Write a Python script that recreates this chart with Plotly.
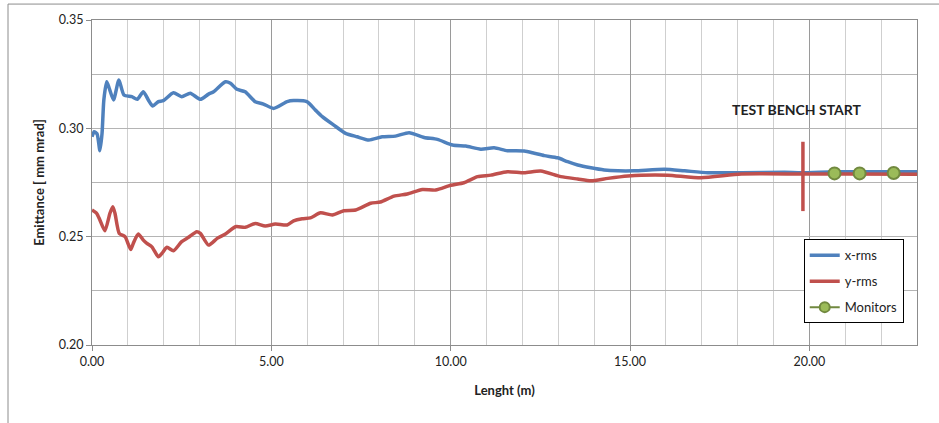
import plotly.graph_objects as go

# Emittance along the line (m, mm mrad)
x_rms_pos = [0, 0.06, 0.14, 0.22, 0.28, 0.33, 0.41, 0.48, 0.6, 0.75, 0.89, 1.11, 1.26, 1.43,
             1.57, 1.69, 1.85, 1.99, 2.27, 2.5, 2.74, 3.02, 3.25, 3.39, 3.72, 3.86, 4.04, 4.27,
             4.55, 4.78, 5.06, 5.44, 5.62, 5.99, 6.23, 6.42, 6.74, 7.07, 7.39, 7.72, 8.09, 8.46,
             8.84, 9.26, 9.63, 10.05, 10.42, 10.84, 11.21, 11.58, 12.05, 12.33, 12.61, 12.98,
             13.26, 13.54, 13.91, 14.28, 14.66, 15.12, 15.96, 16.52, 17.17, 18.1, 19.31, 19.78,
             20.7, 21.4, 22.35, 23.0]
x_rms = [0.2961, 0.2984, 0.2975, 0.2897, 0.2977, 0.3131, 0.3215, 0.3185, 0.3131, 0.3223,
         0.3154, 0.3146, 0.3134, 0.3169, 0.3131, 0.3103, 0.3123, 0.3128, 0.3164, 0.3146,
         0.3162, 0.3134, 0.3158, 0.3169, 0.3215, 0.3208, 0.3180, 0.3169, 0.3123, 0.3112,
         0.3092, 0.3123, 0.3128, 0.3123, 0.3084, 0.3054, 0.3015, 0.2977, 0.2961, 0.2946,
         0.2961, 0.2964, 0.2980, 0.2958, 0.2949, 0.2923, 0.2918, 0.2904, 0.2910, 0.2897,
         0.2895, 0.2885, 0.2874, 0.2864, 0.2846, 0.2831, 0.2818, 0.2808, 0.2804, 0.2804,
         0.2811, 0.2804, 0.2795, 0.2795, 0.2797, 0.2795, 0.2800, 0.2800, 0.2800, 0.2800]

y_rms_pos = [0, 0.13, 0.22, 0.36, 0.5, 0.58, 0.64, 0.76, 0.92, 1.08, 1.15, 1.29, 1.43, 1.53,
             1.67, 1.85, 1.95, 2.09, 2.27, 2.5, 2.69, 2.92, 3.02, 3.25, 3.49, 3.72, 4.0, 4.27,
             4.55, 4.83, 5.11, 5.44, 5.62, 5.86, 6.09, 6.37, 6.70, 7.02, 7.35, 7.77, 8.04, 8.42,
             8.79, 9.21, 9.58, 10.0, 10.37, 10.75, 11.12, 11.58, 12.05, 12.51, 13.07, 13.54,
             13.91, 14.38, 14.94, 15.31, 16.05, 16.98, 18.1, 19.78, 21.0, 23.0]
y_rms = [0.2623, 0.2608, 0.2577, 0.2527, 0.2608, 0.2638, 0.2608, 0.2515, 0.2500, 0.2441,
         0.2469, 0.2512, 0.2484, 0.2469, 0.2453, 0.2407, 0.2423, 0.2451, 0.2435, 0.2477,
         0.2497, 0.2523, 0.2515, 0.2461, 0.2492, 0.2512, 0.2546, 0.2543, 0.2561, 0.2549,
         0.2558, 0.2554, 0.2573, 0.2583, 0.2587, 0.2610, 0.2600, 0.2620, 0.2623, 0.2654,
         0.2660, 0.2687, 0.2697, 0.2718, 0.2715, 0.2737, 0.2749, 0.2777, 0.2784, 0.2800,
         0.2795, 0.2803, 0.2777, 0.2766, 0.2758, 0.2769, 0.2780, 0.2784, 0.2784, 0.2772,
         0.2789, 0.2789, 0.2789, 0.2788]

# Beam monitors
monitor_pos = [20.7, 21.4, 22.35]
monitor_emit = [0.2792, 0.2792, 0.2794]

# Test bench start marker
bench_pos = [19.82, 19.82]
bench_emit = [0.2618, 0.2938]
bench_label = "TEST BENCH START"
bench_label_pos = (19.65, 0.3085)

BLUE = "#4F81BD"
RED = "#C0504D"
GREEN = "#9BBB59"
GREEN_DARK = "#71893F"
FONT = "Lato"

fig = go.Figure()

fig.add_trace(go.Scatter(
    x=x_rms_pos, y=x_rms, name="x-rms", mode="lines", legendgroup="a",
    line=dict(color=BLUE, width=3.5, shape="spline", smoothing=0.6)))
fig.add_trace(go.Scatter(
    x=y_rms_pos, y=y_rms, name="y-rms", mode="lines", legendgroup="b",
    line=dict(color=RED, width=3.5, shape="spline", smoothing=0.6)))
fig.add_trace(go.Scatter(
    x=bench_pos, y=bench_emit, mode="lines", showlegend=False, hoverinfo="skip",
    line=dict(color=RED, width=3.5)))
fig.add_trace(go.Scatter(
    x=monitor_pos, y=monitor_emit, mode="markers", showlegend=False,
    marker=dict(color=GREEN, size=12, line=dict(color=GREEN_DARK, width=2))))
# legend entry for the monitors (line + marker symbol)
fig.add_trace(go.Scatter(
    x=[None], y=[None], name="Monitors", mode="lines+markers", legendgroup="c",
    line=dict(color=GREEN_DARK, width=2),
    marker=dict(color=GREEN, size=10, line=dict(color=GREEN_DARK, width=2))))

fig.add_annotation(
    x=bench_label_pos[0], y=bench_label_pos[1], text="<b>" + bench_label + "</b>",
    showarrow=False, font=dict(family=FONT, size=14, color="#222"))

# outer chart frame
fig.add_shape(type="line", xref="paper", yref="paper", x0=-0.1018, x1=-0.1018, y0=1.049, y1=-0.4,
              line=dict(color="#8c8c8c", width=1))
fig.add_shape(type="line", xref="paper", yref="paper", x0=-0.1018, x1=1.04, y0=1.049, y1=1.049,
              line=dict(color="#8c8c8c", width=1))

fig.update_layout(
    width=939, height=423,
    margin=dict(l=92, r=22, t=20, b=78),
    paper_bgcolor="white", plot_bgcolor="white",
    font=dict(family=FONT, size=12.5, color="#222"),
    legend=dict(x=0.8627, y=0.325, xanchor="left", yanchor="top",
                bordercolor="#000", borderwidth=1, bgcolor="white",
                font=dict(family=FONT, size=13, color="#222"),
                traceorder="grouped", tracegroupgap=6),
    xaxis=dict(
        range=[0, 23], dtick=5, tick0=0, tickformat=".2f",
        showgrid=True, gridcolor="#9a9a9a", gridwidth=1,
        minor=dict(dtick=1, showgrid=True, gridcolor="#cfcfcf", gridwidth=1),
        ticks="outside", ticklen=5, tickcolor="#8c8c8c",
        showline=True, linecolor="#8c8c8c", mirror=True, zeroline=False,
        title=dict(text="<b>Lenght (m)</b>", font=dict(family=FONT, size=13), standoff=17),
    ),
    yaxis=dict(
        range=[0.20, 0.35], dtick=0.05, tick0=0.20, tickformat=".2f",
        showgrid=True, gridcolor="#b4b4b4", gridwidth=1,
        minor=dict(dtick=0.025, showgrid=True, gridcolor="#b4b4b4", gridwidth=1),
        ticks="outside", ticklen=5, tickcolor="#8c8c8c",
        showline=True, linecolor="#8c8c8c", mirror=True, zeroline=False,
        title=dict(text="<b>Emittance [ mm mrad]</b>", font=dict(family=FONT, size=13), standoff=11),
    ),
)

fig.write_html("out.html")
